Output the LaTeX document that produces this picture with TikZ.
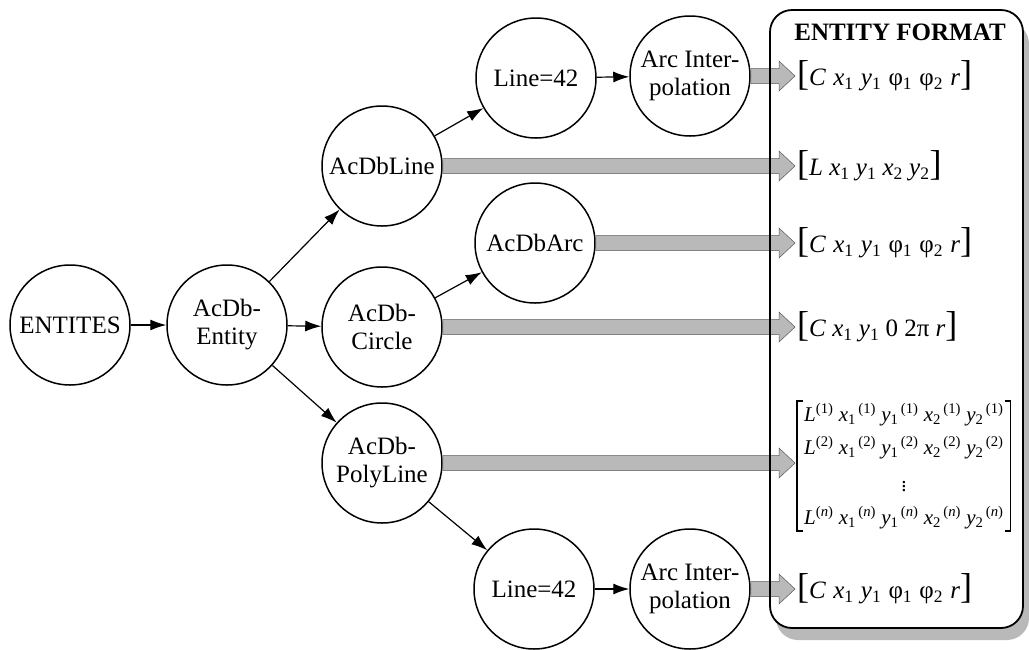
\documentclass[tikz,border=0pt]{standalone}
\usepackage{fontspec}
\setmainfont{Liberation Serif}
\usetikzlibrary{arrows.meta,calc}

\newcommand\nodefont{\fontsize{25}{28}\selectfont}
\newcommand\matfont{\fontsize{21}{33}\selectfont}
\newcommand\lbr{{\fontsize{36}{36}\selectfont[}}
\newcommand\rbr{{\fontsize{36}{36}\selectfont]}}
\newcommand\gap{\ \kern1pt}
\newcommand\iv[2]{\textit{#1}\textsubscript{#2}}
\newcommand\mrow[1]{\textit{L}\textsuperscript{(#1)}\ \iv{x}{1}\textsuperscript{\,(#1)}\ \iv{y}{1}\textsuperscript{\,(#1)}\ \iv{x}{2}\textsuperscript{\,(#1)}\ \iv{y}{2}\textsuperscript{\,(#1)}}
\newcommand\arcform{\lbr\textit{C}\gap\iv{x}{1}\gap\iv{y}{1}\gap φ\textsubscript{1}\gap φ\textsubscript{2}\gap\textit{r}\rbr}

% broad grey arrow from a node's border to the left edge of a formula
\newcommand\fatarrow[2]{%
  \filldraw[fatfill] let \p1=(#1), \p2=(#2) in
    (\x1,\y1+7.5pt) -- (\x2-18pt,\y1+7.5pt) -- (\x2-18pt,\y1+15pt) -- (\x2-2pt,\y1)
    -- (\x2-18pt,\y1-15pt) -- (\x2-18pt,\y1-7.5pt) -- (\x1,\y1-7.5pt) -- cycle;}

\tikzset{
  bubble/.style={circle, draw, line width=1.5pt, minimum size=120pt, inner sep=0pt,
                 align=center, font=\nodefont},
  link/.style={line width=1.2pt, -{Latex[length=16pt,width=11pt]}},
  fatfill/.style={fill=gray!55, draw=gray!70!black, line width=0.5pt},
  formula/.style={anchor=west, inner sep=0pt, font=\nodefont},
}

\begin{document}
\begin{tikzpicture}[x=1pt,y=-1pt]
\useasboundingbox (0,0) rectangle (1029,649);

% format panel with its shadow
\fill[gray!55, rounded corners=22pt] (776,22) rectangle (1029,640);
\fill[white, rounded corners=22pt] (770,10) rectangle (1023,628);

% processing nodes
\node[bubble] (ent)   at (70,325)  {ENTITES};
\node[bubble] (enty)  at (227,325) {AcDb-\\Entity};
\node[bubble] (line)  at (382,166) {AcDbLine};
\node[bubble] (circ)  at (382,327) {AcDb-\\Circle};
\node[bubble] (poly)  at (382,463) {AcDb-\\PolyLine};
\node[bubble] (lna)   at (536,78)  {Line=42};
\node[bubble] (arca)  at (690,76)  {Arc Inter-\\polation};
\node[bubble] (arc)   at (535,243) {AcDbArc};
\node[bubble] (lnb)   at (534,589) {Line=42};
\node[bubble] (arcb)  at (690,589) {Arc Inter-\\polation};

\draw[link] (ent) -- (enty);
\draw[link] (enty) -- (line);
\draw[link] (enty) -- (circ);
\draw[link] (enty) -- (poly);
\draw[link] (line) -- (lna);
\draw[link] (lna) -- (arca);
\draw[link] (circ) -- (arc);
\draw[link] (poly) -- (lnb);
\draw[link] (lnb) -- (arcb);

% output formats
\node[font=\nodefont\bfseries] (title) at (900,32) {ENTITY FORMAT};
\node[formula] (f1) at (797,76)  {\arcform};
\node[formula] (f2) at (797,166) {\lbr\textit{L}\ \iv{x}{1}\ \iv{y}{1}\ \iv{x}{2}\ \iv{y}{2}\rbr};
\node[formula] (f3) at (797,243) {\arcform};
\node[formula] (f4) at (797,327) {\lbr\textit{C}\ \iv{x}{1}\ \iv{y}{1}\ 0\ 2π\ \textit{r}\rbr};
\node[anchor=west, inner xsep=7pt, inner ysep=2pt, align=center, font=\matfont] (mat) at (797,466)
  {\mrow{1}\\ \mrow{2}\\[4pt] $\vdots$\\[0pt] \mrow{\textit{n}}};
\node[formula] (f6) at (797,589) {\arcform};

\draw[line width=1.4pt] ([xshift=6pt]mat.north west) -- (mat.north west) -- (mat.south west) -- ++(6pt,0);
\draw[line width=1.4pt] ([xshift=-6pt]mat.north east) -- (mat.north east) -- (mat.south east) -- ++(-6pt,0);

% broad arrows into the format panel
\fatarrow{arca.east}{f1.west}
\fatarrow{line.east}{f2.west}
\fatarrow{arc.east}{f3.west}
\fatarrow{circ.east}{f4.west}
\fatarrow{poly.east}{mat.west}
\fatarrow{arcb.east}{f6.west}

\draw[line width=1.8pt, rounded corners=22pt] (770,10) rectangle (1023,628);
\end{tikzpicture}
\end{document}
